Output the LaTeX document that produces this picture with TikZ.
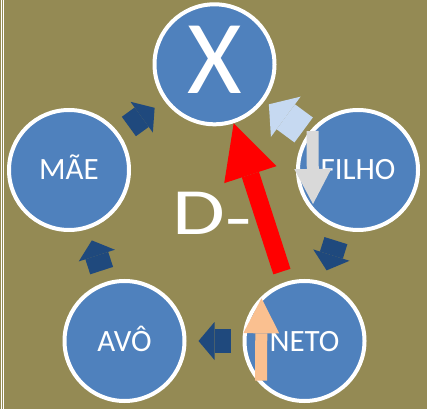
\documentclass[tikz,border=0pt]{standalone}
\usepackage{fontspec}
\setmainfont{Carlito}
\usetikzlibrary{arrows.meta}

\definecolor{fundo}{HTML}{948A54}
\definecolor{azul}{HTML}{4F81BD}
\definecolor{azulescuro}{HTML}{1F497D}
\definecolor{azulclaro}{HTML}{C6D9F1}
\definecolor{cinza}{HTML}{D9D9D9}
\definecolor{pessego}{HTML}{FAC090}

\begin{document}
\begin{tikzpicture}[x=1pt,y=1pt,
	membro/.style={circle,fill=azul,draw=white,line width=4pt,minimum size=120pt,inner sep=0pt,
		text=white,text height=20pt,text depth=0pt,font=\fontsize{31}{31}\selectfont},
	seta/.style={draw=azulescuro,line width=24pt,-{Triangle[length=16pt,width=38pt,line width=0pt]},
		shorten <=12pt,shorten >=12pt}]
\fill[fundo] (0,0) rectangle (427,409);
\useasboundingbox (0,0) rectangle (427,409);
\draw[white,line width=1pt] (1.7,0)--(1.7,409) (3.7,0)--(3.7,409);

% circulos
\node[membro,font=\fontsize{105}{105}\selectfont,text height=66pt,text depth=8pt] (x) at (214.5,344.7) {X};
\node[membro] (mae) at (69,239) {MÃE};
\node[membro] (filho) at (358,239) {FILHO};
\node[membro] (avo) at (124.5,68) {AVÔ};
\node[membro] (neto) at (304.5,68) {NETO};

\node[font=\fontsize{66}{66}\selectfont,text=white,xscale=1.3,anchor=base west,inner sep=0pt] (dmenos) at (172,174) {D\raisebox{-6pt}{-}};

% setas
\draw[seta] (avo) -- (mae);
\draw[seta] (mae) -- (x);
\draw[seta] (filho) -- (neto);
\draw[seta] (neto) -- (avo);
\draw[seta,draw=azulclaro,line width=31pt,-{Triangle[length=21pt,width=50pt,line width=0pt]},
	shorten <=5.5pt,shorten >=5.5pt] (filho) -- (x);
\draw[draw=red,line width=18pt,-{Triangle[length=54pt,width=55pt,line width=0pt]},shorten <=11pt] (neto) -- (x);

\coordinate (cinzaA) at (312.5,278);
\coordinate (cinzaB) at (313,205);
\draw[draw=cinza,line width=12pt,-{Triangle[length=35pt,width=37pt,line width=0pt]}] (cinzaA) -- (cinzaB);
\coordinate (pessegoA) at (261,28.3);
\coordinate (pessegoB) at (261.5,110.7);
\draw[draw=pessego,line width=12pt,-{Triangle[length=35pt,width=36pt,line width=0pt]}] (pessegoA) -- (pessegoB);
\end{tikzpicture}
\end{document}
